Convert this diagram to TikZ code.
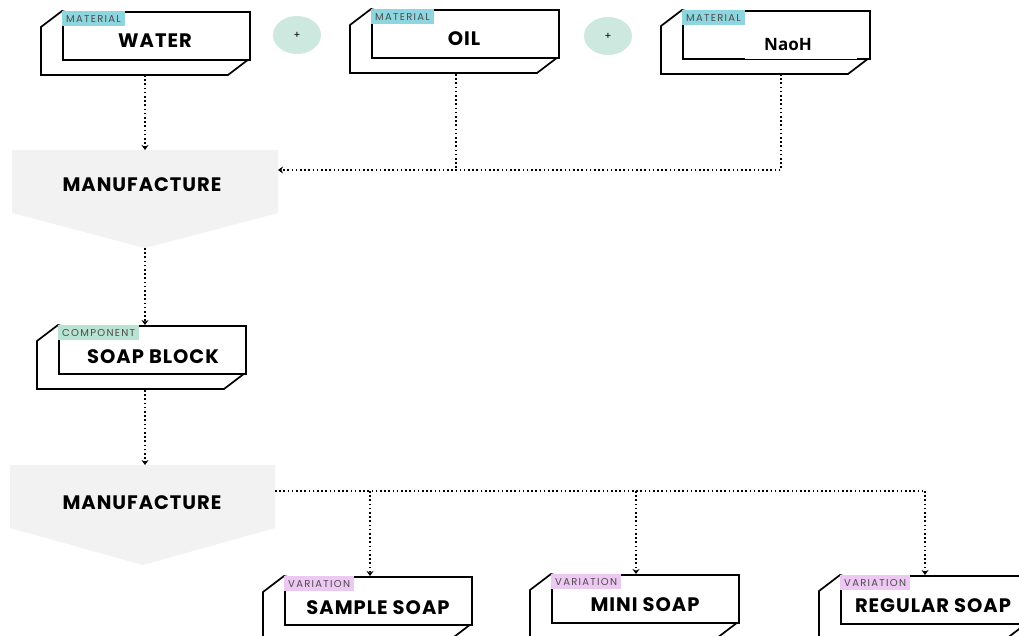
\documentclass[tikz,border=0pt]{standalone}
\usepackage{fontspec}
\setmainfont{Poppins}
\newfontfamily\osfont{Open Sans}
\usetikzlibrary{arrows.meta,shapes.geometric}
\definecolor{tagblue}{HTML}{8DD5DF}
\definecolor{tagmint}{HTML}{B8E2D2}
\definecolor{tagpink}{HTML}{EDC8F2}
\definecolor{plusmint}{HTML}{CDE8DE}
\definecolor{mfgray}{HTML}{F3F2F2}
\tikzset{
  face/.style={draw=black,line width=1.7pt,fill=white,rectangle,minimum width=187pt,minimum height=48pt,inner sep=0pt,anchor=north west},
  side/.style={draw=black,line width=1.7pt,fill=white,line join=miter},
  tag/.style={rectangle,inner xsep=4pt,inner ysep=0pt,minimum height=15pt,anchor=north west,font=\fontsize{10}{10}\selectfont\addfontfeature{LetterSpace=13},text=black!70},
  title/.style={font=\bfseries\fontsize{19.5}{20}\selectfont\addfontfeature{LetterSpace=5}},
  flow/.style={line width=1.6pt,dash pattern=on 1.6pt off 2.6pt,-{Stealth[length=5pt,width=7pt]}},
  flowline/.style={line width=1.6pt,dash pattern=on 1.6pt off 2.6pt},
  plus/.style={ellipse,fill=plusmint,minimum width=48pt,minimum height=38pt,inner sep=0pt,font=\fontsize{10}{10}\selectfont},
  mfg/.style={fill=mfgray},
}
\newcommand\mycube[6]{%
  \draw[side] (#2,#3) -- ++(-21,16) -- ++(0,48) -- ++(187,0) -- ++(21,-16) -- cycle;
  \node[face] (#1) at (#2,#3) {};
  \node[tag,fill=#5] (#1tag) at (#1.north west) {#4};
}
\begin{document}
\begin{tikzpicture}[x=1pt,y=-1pt]
\useasboundingbox (0,0) rectangle (1019,636);
\fill[white] (0,0) rectangle (1019,636);

% materials
\mycube{water}{62}{11}{MATERIAL}{tagblue}{}
\node[title] (watert) at (155,41) {WATER};
\mycube{oil}{371}{9}{MATERIAL}{tagblue}{}
\node[title] (oilt) at (464,39) {OIL};
\mycube{naoh}{682}{10}{MATERIAL}{tagblue}{}
\node[fill=white,minimum width=112pt,minimum height=28pt,inner sep=0pt] (naohbg) at (801,45) {};
\node[font=\osfont\bfseries\fontsize{17}{20}\selectfont] (naoht) at (788,45) {NaoH};

\node[plus] (plus1) at (297,35) {+};
\node[plus] (plus2) at (608,36) {+};

% manufacture 1
\fill[mfg] (12,150) -- (278,150) -- (278,213) -- (145,248) -- (12,213) -- cycle;
\node[title] (m1) at (142,185) {MANUFACTURE};
\coordinate (m1top) at (145,150);
\coordinate (m1in) at (278,170);
\coordinate (m1tip) at (145,248);

% soap block
\mycube{block}{58}{325}{COMPONENT}{tagmint}{}
\node[title] (blockt) at (153,357) {SOAP BLOCK};

% manufacture 2
\fill[mfg] (10,465) -- (275,465) -- (275,528) -- (143,565) -- (10,528) -- cycle;
\node[title] (m2) at (142,503) {MANUFACTURE};
\coordinate (m2top) at (145,465);
\coordinate (m2tip) at (145,565);
\coordinate (m2out) at (275,491);

% variations
\mycube{sample}{284}{576}{VARIATION}{tagpink}{}
\node[title] (samplet) at (378,608) {SAMPLE SOAP};
\mycube{mini}{551}{574}{VARIATION}{tagpink}{}
\node[title] (minit) at (645,605) {MINI SOAP};
\mycube{regular}{840}{575}{VARIATION}{tagpink}{}
\node[title] (regulart) at (933,606) {REGULAR SOAP};

% connectors
\coordinate (waterb) at (145,75);
\coordinate (oilb) at (456,74);
\coordinate (naohb) at (781,74);
\coordinate (blockb) at (145,390);
\coordinate (j1) at (456,170);
\coordinate (j2) at (370,491);
\coordinate (j3) at (636,491);
\coordinate (j4) at (925,491);

\draw[flow] (waterb) -- (m1top);
\draw[flowline] (oilb) -- (j1);
\draw[flow] (naohb) |- (m1in);
\draw[flow] (m1tip) -- (block.north -| m1tip);
\draw[flow] (blockb) -- (m2top);
\draw[flowline] (m2out) -- (j4);
\draw[flow] (j2) -- (sample.north -| j2);
\draw[flow] (j3) -- (mini.north -| j3);
\draw[flow] (j4) -- (regular.north -| j4);
\end{tikzpicture}
\end{document}
